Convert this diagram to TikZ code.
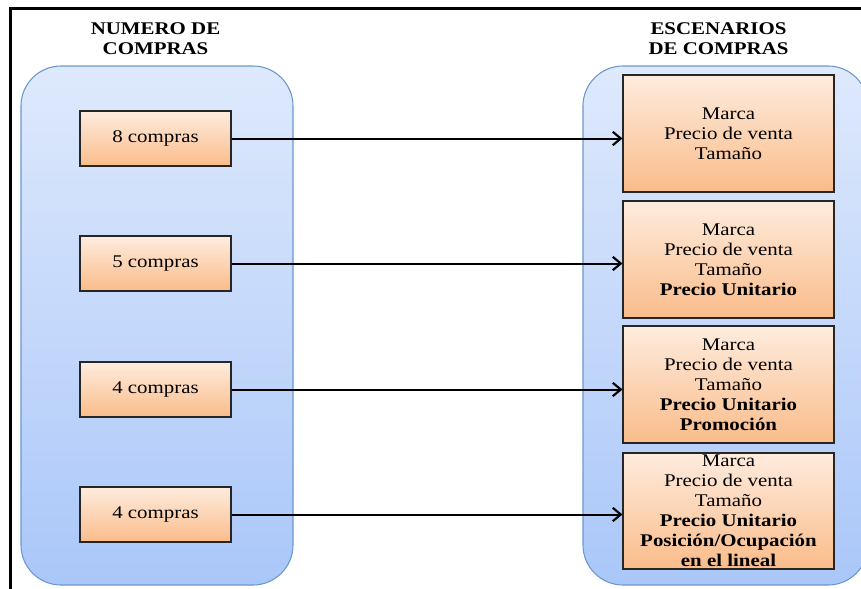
\documentclass[tikz,border=0pt]{standalone}
\usepackage{fontspec}
\setmainfont[FakeStretch=1.17]{Liberation Serif}
\usetikzlibrary{arrows.meta,shadows}
\definecolor{cbluetop}{RGB}{222,233,252}
\definecolor{cbluebot}{RGB}{170,199,249}
\definecolor{cblueline}{RGB}{105,152,205}
\definecolor{corgtop}{RGB}{254,236,222}
\definecolor{corgbot}{RGB}{250,188,138}
\begin{document}
\begin{tikzpicture}[x=0.75pt,y=-0.75pt,
  font=\fontsize{13.4}{15}\selectfont,
  container/.style={draw=cblueline, line width=0.8pt, rounded corners=30pt,
    top color=cbluetop, bottom color=cbluebot, inner sep=0pt},
  boxbase/.style={draw=black!85, line width=0.8pt, top color=corgtop,
    bottom color=corgbot, inner sep=0pt, align=center,
    drop shadow={shadow xshift=0.8pt, shadow yshift=-1pt, opacity=0.3, fill=black}},
  leftbox/.style={boxbase, minimum width=113.25pt, minimum height=41.25pt},
  rightbox/.style={boxbase, minimum width=158.25pt, minimum height=87.75pt},
  title/.style={font=\bfseries\fontsize{13.4}{15}\selectfont, align=center, inner sep=0pt},
  link/.style={-{Straight Barb[length=6pt,width=10pt,line width=1.6pt]}, line width=1.5pt}]
\useasboundingbox (0,0) rectangle (861,589);
\fill[white] (0,0) rectangle (861,589);
\begin{scope}
\clip (0,0) rectangle (861,589);
\node[container, minimum width=204pt, minimum height=389.25pt] (cl) at (157,325.5) {};
\node[container, minimum width=213.75pt, minimum height=389.25pt] (cr) at (725.5,325.5) {};
\end{scope}
\draw[line width=2.25pt] (10,589) -- (10,8) -- (861,8);
\node[title] (t1) at (155.5,39) {NUMERO DE\\COMPRAS};
\node[title] (t2) at (718.5,39) {ESCENARIOS\\DE COMPRAS};
\node[leftbox] (l1) at (155.5,138.5) {8 compras};
\node[leftbox] (l2) at (155.5,263.5) {5 compras};
\node[leftbox] (l3) at (155.5,389.5) {4 compras};
\node[leftbox] (l4) at (155.5,514.5) {4 compras};
\node[rightbox] (r1) at (728.5,133.5) {Marca\\Precio de venta\\Tamaño};
\node[rightbox] (r2) at (728.5,259.5) {Marca\\Precio de venta\\Tamaño\\\textbf{Precio Unitario}};
\node[rightbox] (r3) at (728.5,384.5) {Marca\\Precio de venta\\Tamaño\\\textbf{Precio Unitario}\\\textbf{Promoción}};
\node[rightbox, minimum height=87pt] (r4) at (728.5,511) {Marca\\Precio de venta\\Tamaño\\\textbf{Precio Unitario}\\\textbf{Posición/Ocupación}\\\textbf{en el lineal}};
\draw[link] (l1.east) -- (l1.east -| r1.west);
\draw[link] (l2.east) -- (l2.east -| r2.west);
\draw[link] (l3.east) -- (l3.east -| r3.west);
\draw[link] (l4.east) -- (l4.east -| r4.west);
\end{tikzpicture}
\end{document}
